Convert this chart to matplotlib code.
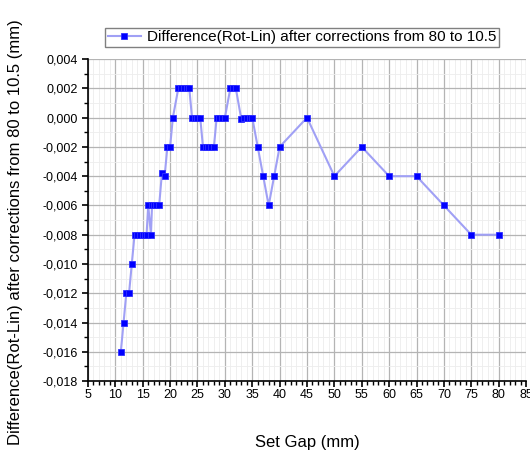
import matplotlib
matplotlib.use('Agg')
import matplotlib.pyplot as plt
from matplotlib.ticker import MultipleLocator, FuncFormatter

plt.rcParams['font.family'] = ['Liberation Sans', 'DejaVu Sans']

# Set gap (mm) and difference Rot-Lin (mm)
gap = [11, 11.5, 12, 12.5, 13, 13.5, 14, 14.5, 15, 15.5, 15.7, 16, 16.5, 16.7,
       17, 17.5, 18, 18.5, 19, 19.5, 20, 20.5, 21.5, 22, 22.5, 23, 23.5,
       24, 24.5, 25, 25.5, 26, 26.5, 27, 27.5, 28, 28.5, 29, 29.5, 30,
       31, 31.5, 32, 33, 33.5, 34, 34.5, 35, 36, 37, 38, 39, 40,
       45, 50, 55, 60, 65, 70, 75, 80]
diff = [-0.016, -0.014, -0.012, -0.012, -0.010, -0.008, -0.008, -0.008, -0.008,
        -0.008, -0.008, -0.006, -0.008, -0.006,
        -0.006, -0.006, -0.006, -0.0038, -0.004, -0.002, -0.002, 0.000,
        0.002, 0.002, 0.002, 0.002, 0.002,
        0.000, 0.000, 0.000, 0.000, -0.002, -0.002, -0.002, -0.002, -0.002,
        0.000, 0.000, 0.000, 0.000,
        0.002, 0.002, 0.002, -0.0001, 0.000, 0.000, 0.000, 0.000,
        -0.002, -0.004, -0.006, -0.004, -0.002,
        0.000, -0.004, -0.002, -0.004, -0.004, -0.006, -0.008, -0.008]

series_label = 'Difference(Rot-Lin) after corrections from 80 to 10.5'


def comma_fmt(v, pos):
    v = round(v, 6)
    if v == 0:
        v = 0.0
    return f'{v:.3f}'.replace('.', ',')


fig = plt.figure(figsize=(5.30, 4.51), dpi=100)
ax = fig.add_axes([0.166, 0.155, 0.8265, 0.714])

ax.plot(gap, diff, color='#a0a0f5', linewidth=1.5, marker='s', markersize=5,
        markerfacecolor='#0000ff', markeredgecolor='#3030ff',
        markeredgewidth=0.6, label=series_label, zorder=3)

ax.set_xlim(5, 85)
ax.set_ylim(-0.018, 0.004)
ax.xaxis.set_major_locator(MultipleLocator(5))
ax.xaxis.set_minor_locator(MultipleLocator(1))
ax.yaxis.set_major_locator(MultipleLocator(0.002))
ax.yaxis.set_minor_locator(MultipleLocator(0.001))
ax.yaxis.set_major_formatter(FuncFormatter(comma_fmt))

ax.grid(True, which='major', color='#b4b4b4', linewidth=0.9)
ax.grid(True, which='minor', color='#ededed', linewidth=0.6)
ax.set_axisbelow(True)

for s in ['top', 'right']:
    ax.spines[s].set_visible(False)
for s in ['left', 'bottom']:
    ax.spines[s].set_linewidth(1.2)
ax.tick_params(which='major', direction='out', length=4, width=1.2, labelsize=9)
ax.tick_params(axis='x', which='major', pad=2)
ax.tick_params(which='minor', direction='out', length=3, width=1.0)

ax.set_xlabel('Set Gap (mm)', fontsize=12, labelpad=24)
ax.set_ylabel(series_label + ' (mm)', fontsize=12)
ax.yaxis.set_label_coords(-0.148, 0.462)

leg = fig.legend(loc='center', bbox_to_anchor=(0.57, 0.917), fontsize=11,
                 frameon=True, fancybox=False, edgecolor='#606060',
                 handlelength=2.2, borderpad=0.15, handletextpad=0.4)
leg.get_frame().set_linewidth(1.0)

fig.savefig('out.png', dpi=100)
